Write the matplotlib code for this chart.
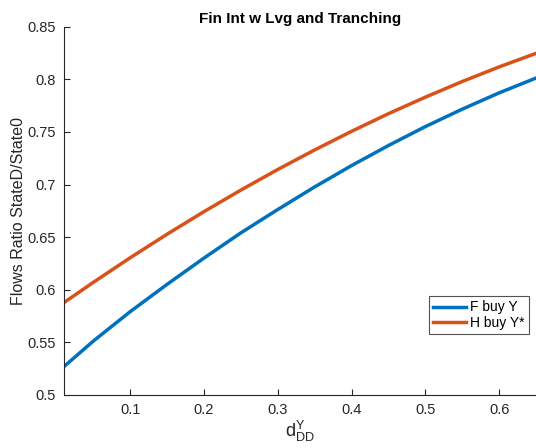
import matplotlib
matplotlib.use("Agg")
import matplotlib.pyplot as plt

plt.rcParams['font.family'] = ['Liberation Sans', 'DejaVu Sans']
plt.rcParams['mathtext.fontset'] = 'custom'
plt.rcParams['mathtext.rm'] = 'Liberation Sans'

# values
d_dd = [0.01, 0.05, 0.10, 0.15, 0.20, 0.25, 0.30, 0.35, 0.40, 0.45, 0.50, 0.55, 0.60, 0.65]
f_buy_y = [0.5266, 0.5510, 0.5790, 0.6050, 0.6300, 0.6540, 0.6762, 0.6977, 0.7180,
           0.7371, 0.7551, 0.7717, 0.7872, 0.8013]
h_buy_ystar = [0.5875, 0.6069, 0.6303, 0.6527, 0.6742, 0.6947, 0.7143, 0.7329, 0.7506,
               0.7674, 0.7831, 0.7980, 0.8119, 0.8248]

axcol = '#262626'

fig = plt.figure(figsize=(5.36, 4.48), dpi=100)
ax = fig.add_axes([0.119, 0.119, 0.881, 0.821])

ax.plot(d_dd, f_buy_y, color='#0072BD', lw=2.5, label='F buy Y')
ax.plot(d_dd, h_buy_ystar, color='#D95319', lw=2.5, label='H buy Y*')

ax.set_xlim(0.01, 0.65)
ax.set_ylim(0.5, 0.85)
ax.set_xticks([0.1, 0.2, 0.3, 0.4, 0.5, 0.6])
ax.set_xticklabels(['0.1', '0.2', '0.3', '0.4', '0.5', '0.6'])
ax.set_yticks([0.5, 0.55, 0.6, 0.65, 0.7, 0.75, 0.8, 0.85])
ax.set_yticklabels(['0.5', '0.55', '0.6', '0.65', '0.7', '0.75', '0.8', '0.85'])

for s in ['top', 'right']:
    ax.spines[s].set_visible(False)
for s in ['left', 'bottom']:
    ax.spines[s].set_color(axcol)
    ax.spines[s].set_linewidth(0.8)
ax.tick_params(direction='in', length=4, width=0.8, colors=axcol, labelsize=10.5, pad=6)

ax.set_title('Fin Int w Lvg and Tranching', fontsize=11, fontweight='bold', pad=3)
ax.set_ylabel('Flows Ratio StateD/State0', fontsize=11.5, color=axcol, labelpad=1)
ax.set_xlabel(r'$\mathrm{d}^{\mathrm{Y}}_{\mathrm{DD}}$', fontsize=13, color=axcol, labelpad=1)

leg = ax.legend(loc='lower right', bbox_to_anchor=(0.985, 0.165), fontsize=10,
                frameon=True, fancybox=False, handlelength=2.4, handletextpad=0.3,
                borderpad=0.3, labelspacing=0.1, borderaxespad=0)
leg.get_frame().set_edgecolor(axcol)
leg.get_frame().set_linewidth(0.8)

fig.savefig('out.png', dpi=100)
